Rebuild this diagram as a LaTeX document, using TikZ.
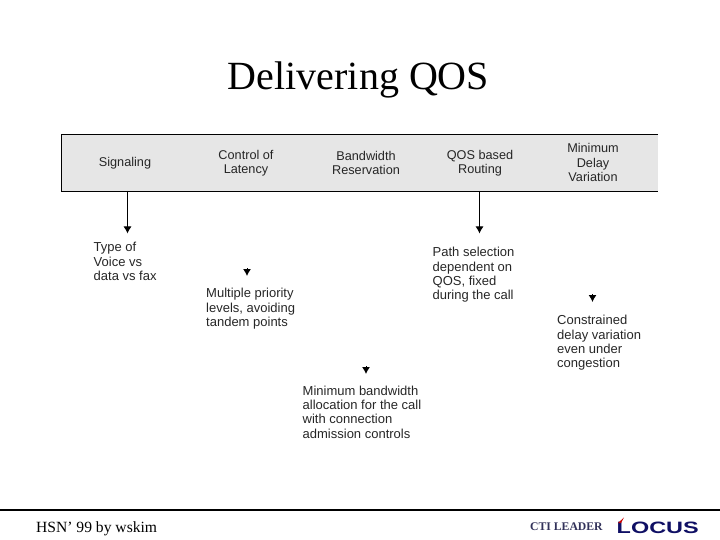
\documentclass[tikz,border=0pt]{standalone}
\usepackage{fontspec}
\setmainfont{Liberation Serif}
\setsansfont{Liberation Sans}
\usetikzlibrary{arrows.meta}
\definecolor{barfill}{RGB}{230,230,230}
\definecolor{locusblue}{RGB}{15,15,100}
\definecolor{ctiblue}{RGB}{50,50,90}
\tikzset{
    head/.style={align=center, font=\sffamily\fontsize{12.7}{14.4}\selectfont, text=black!85, inner sep=0pt},
    note/.style={align=left, anchor=north west, font=\sffamily\fontsize{13}{14.4}\selectfont, text=black!85, inner sep=0pt},
    flow/.style={-{Latex[length=7pt,width=8pt]}, line width=1pt},
}
\begin{document}
\begin{tikzpicture}[x=1pt, y=-1pt]
    \useasboundingbox (0,0) rectangle (720,540);
    \node[anchor=base, font=\fontsize{40}{44}\selectfont, inner sep=0pt] (title) at (358.5,90) {Delivering QOS};
    % header bar
    \node[fill=barfill, minimum width=596pt, minimum height=57pt, inner sep=0pt] (bar) at (360,162.8) {};
    \draw[line width=1pt] (bar.north east) -- (bar.north west) -- (bar.south west) -- (bar.south east);
    \node[head] (signal) at (125,163.5) {Signaling};
    \node[head] (latency) at (246,163) {Control of\\Latency};
    \node[head] (band) at (366,163) {Bandwidth\\Reservation};
    \node[head] (routing) at (480,163) {QOS based\\Routing};
    \node[head] (delay) at (593,162.5) {Minimum\\Delay\\Variation};
    % notes
    \node[note] (n1) at (93.5,242) {Type of\\Voice vs\\data vs fax};
    \node[note] (n2) at (206,288) {Multiple priority\\levels, avoiding\\tandem points};
    \node[note] (n3) at (302.5,385.5) {Minimum bandwidth\\allocation for the call\\with connection\\admission controls};
    \node[note] (n4) at (432.5,247) {Path selection\\dependent on\\QOS, fixed\\during the call};
    \node[note] (n5) at (557,315) {Constrained\\delay variation\\even under\\congestion};
    % arrows
    \coordinate (a1) at (127.5,191);
    \coordinate (b1) at (127.5,233.5);
    \coordinate (a4) at (479.5,191);
    \coordinate (b4) at (479.5,233.5);
    \coordinate (a2) at (247,268);
    \coordinate (b2) at (247,276);
    \coordinate (a3) at (366,366);
    \coordinate (b3) at (366,374);
    \coordinate (a5) at (592.5,294);
    \coordinate (b5) at (592.5,302);
    \draw[flow] (a1) -- (b1);
    \draw[flow] (a4) -- (b4);
    \draw[flow] (a2) -- (b2);
    \draw[flow] (a3) -- (b3);
    \draw[flow] (a5) -- (b5);
    % footer
    \coordinate (ruleL) at (0,509.5);
    \coordinate (ruleR) at (720,509.5);
    \draw[line width=2pt] (ruleL) -- (ruleR);
    \node[anchor=west, inner sep=0pt, font=\fontsize{15.6}{18}\selectfont] (hsn) at (36,529) {HSN' 99 by wskim};
    \node[anchor=west, inner sep=0pt, text=ctiblue, font=\bfseries\fontsize{11.7}{14}\selectfont] (cti) at (530,527) {CTI LEADER};
    \node[anchor=west, inner sep=0pt, text=locusblue, font=\sffamily\bfseries\fontsize{14}{14}\selectfont] (locus) at (616.5,527.5) {\resizebox{82pt}{11.5pt}{LOCUS}};
    \fill[red!80!black] (624,517.5) -- (618,523) -- (621,523) -- cycle;
\end{tikzpicture}
\end{document}
